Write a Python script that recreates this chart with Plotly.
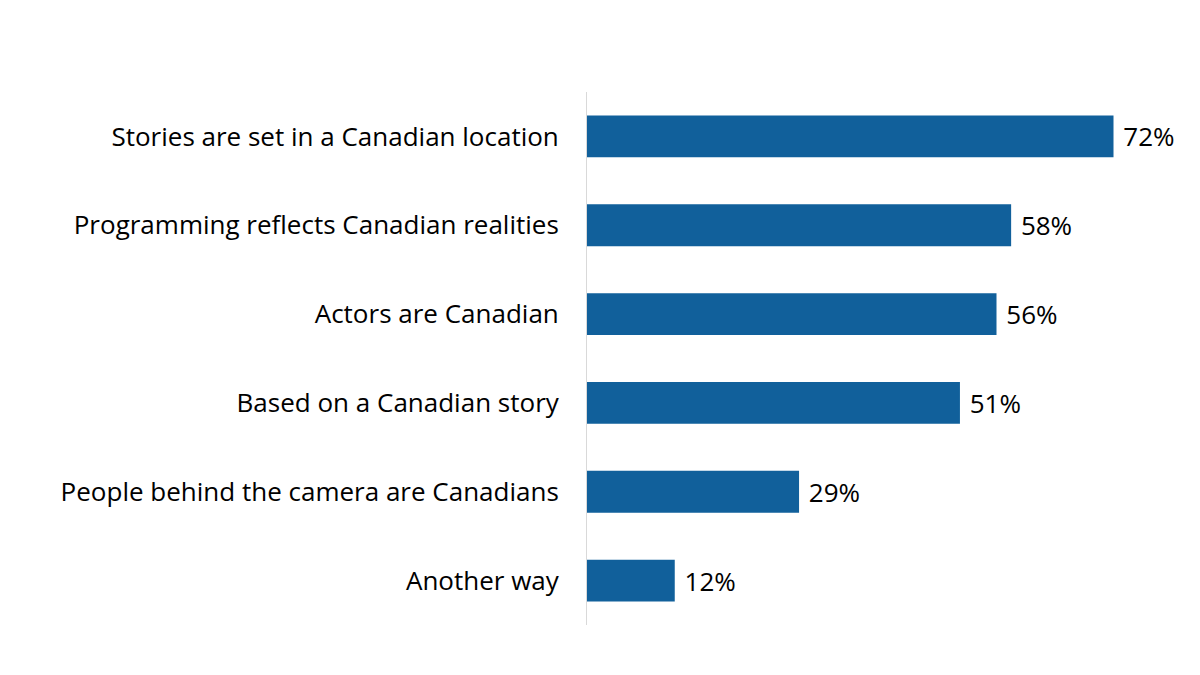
import plotly.graph_objects as go

# Ways a programme is considered Canadian (share of respondents, %)
categories = [
    "Stories are set in a Canadian location",
    "Programming reflects Canadian realities",
    "Actors are Canadian",
    "Based on a Canadian story",
    "People behind the camera are Canadians",
    "Another way",
]
values = [72, 58, 56, 51, 29, 12]
labels = [f" {v}%" for v in values]

bar_color = "#11609B"
font_family = "'Open Sans', sans-serif"

fig = go.Figure(go.Bar(
    x=values,
    y=categories,
    orientation="h",
    marker=dict(color=bar_color, line=dict(width=0)),
    width=0.47,
    text=labels,
    textposition="outside",
    textfont=dict(size=26, color="#000000", family=font_family),
    cliponaxis=False,
    hoverinfo="skip",
))

fig.update_layout(
    width=1200,
    height=675,
    margin=dict(l=579, r=36, t=84, b=58),
    paper_bgcolor="white",
    plot_bgcolor="white",
    showlegend=False,
    font=dict(family=font_family, size=26, color="#000000"),
    uniformtext=dict(minsize=26, mode="show"),
    xaxis=dict(
        range=[0, 80],
        showgrid=False,
        zeroline=False,
        showticklabels=False,
        showline=False,
    ),
    yaxis=dict(
        autorange="reversed",
        range=[-0.5, 5.5],
        showgrid=False,
        zeroline=False,
        showline=True,
        linecolor="#D9D9D9",
        linewidth=1,
        ticks="",
        ticklabelstandoff=22,
        tickfont=dict(size=26, color="#000000", family=font_family),
    ),
)

fig.write_html("out.html")
